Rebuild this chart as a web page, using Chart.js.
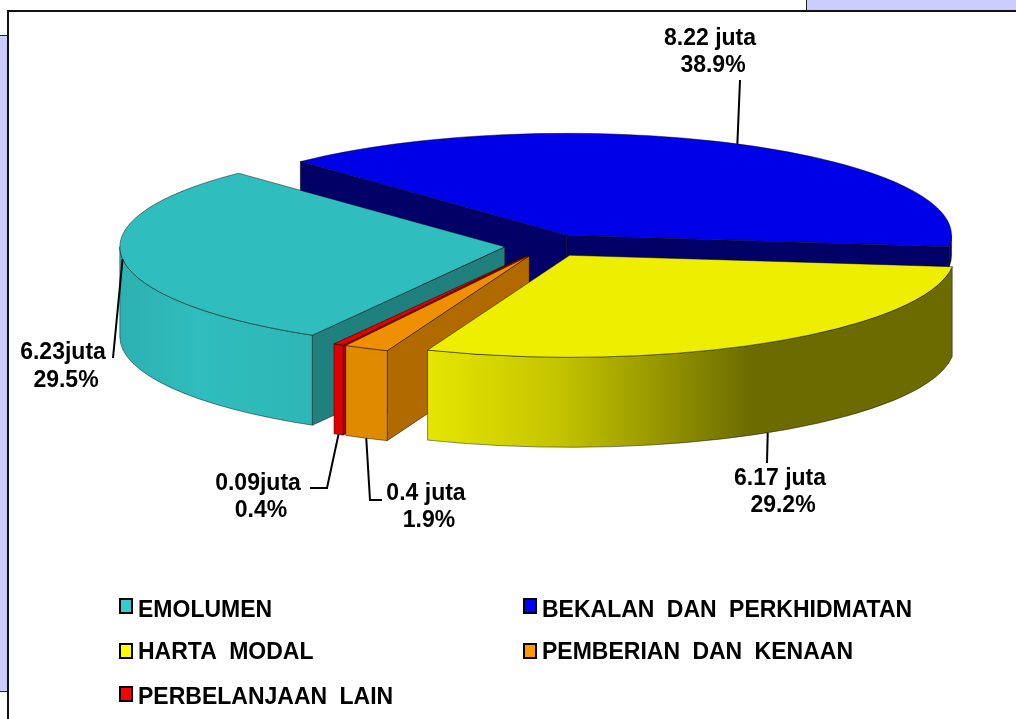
<!DOCTYPE html>
<html>
<head>
<meta charset="utf-8">
<title>Perbelanjaan</title>
<script src="https://cdn.jsdelivr.net/npm/chart.js@4/dist/chart.umd.min.js"></script>
<style>
  html, body { margin: 0; padding: 0; background: #fff; overflow: hidden; }
  #page { position: relative; width: 1016px; height: 719px; overflow: hidden; }
  #frame { position: absolute; left: 7px; top: 10px; width: 1100px; height: 800px; border: 2px solid #111; box-sizing: border-box; }
  #sideBox { position: absolute; left: 0; top: 35px; width: 7px; height: 657px; background: #ccccff; border-top: 1px solid #222; border-bottom: 1px solid #222; box-sizing: border-box; }
  #cornerBox { position: absolute; left: 806px; top: 0; width: 210px; height: 10px; background: #ccccff; border-left: 1px solid #222; box-sizing: border-box; }
  canvas { position: absolute; left: 0; top: 0; }
</style>
</head>
<body>
<div id="page">
  <div id="sideBox"></div>
  <div id="cornerBox"></div>
  <div id="frame"></div>
  <canvas id="pie" width="1016" height="719"></canvas>
</div>
<script>
// data, clockwise from the emolumen slice
const categories = ['EMOLUMEN', 'BEKALAN DAN PERKHIDMATAN', 'HARTA MODAL', 'PEMBERIAN DAN KENAAN', 'PERBELANJAAN LAIN'];
const values = [6.23, 8.22, 6.17, 0.4, 0.09];
const valueLabels = ['6.23juta', '8.22 juta', '6.17 juta', '0.4 juta', '0.09juta'];
const percentLabels = ['29.5%', '38.9%', '29.2%', '1.9%', '0.4%'];

// styles
const topColors = ['#2fbdbd', '#0000e8', '#eeee00', '#ee9000', '#e80000'];
const legendColors = ['#33cccc', '#0000ff', '#ffff00', '#ff9900', '#ff0000'];
const cutColors = ['#20807e', '#000066', '#6b6b00', '#b06a00', '#a00000'];
const rimStops = [
  [[0, '#2db0b0'], [0.4, '#30bdbd'], [1, '#2eb6b6']],
  [[0, '#000066'], [1, '#000066']],
  [[0, '#e6e600'], [0.25, '#c4c400'], [0.62, '#6b6b00'], [1, '#6b6b00']],
  [[0, '#e08a00'], [1, '#e08a00']],
  [[0, '#e00000'], [1, '#e00000']]
];
const paintOrder = [1, 0, 4, 3, 2];

const squash = 0.265;
const depth = 90;
const blueRimDepth = 20; // the rest of that wall is hidden behind the yellow slice
const explode = 43;

// label layout: where the two text lines sit, whether the leader starts at the bottom of the wall, elbow of the leader
const labelSpots = [
  { x: 63, y: 353, gap: 28, low: false, leader: [[113, 358]] },
  { x: 710, y: 39, gap: 27, low: false, leader: [[740, 80]] },
  { x: 780, y: 479, gap: 27, low: true, leader: [[767, 463]] },
  { x: 426, y: 494, gap: 27, low: true, leader: [[370, 500], [382, 500]] },
  { x: 258, y: 484, gap: 27, low: true, leader: [[327, 488], [310, 488]] }
];
const legendSpots = [[120, 611], [524, 611], [120, 653], [524, 653], [120, 698]];
const swatchTops = [599, 599, 644, 644, 687];

function rimPoint(arc, angle, drop) {
  return {
    x: arc.x + Math.cos(angle) * arc.outerRadius,
    y: arc.y + Math.sin(angle) * arc.outerRadius * squash + drop
  };
}

function cutFace(ctx, arc, angle, color) {
  const p = rimPoint(arc, angle, 0);
  ctx.beginPath();
  ctx.moveTo(arc.x, arc.y);
  ctx.lineTo(p.x, p.y);
  ctx.lineTo(p.x, p.y + depth);
  ctx.lineTo(arc.x, arc.y + depth);
  ctx.closePath();
  ctx.fillStyle = color;
  ctx.fill();
  ctx.stroke();
}

function rimWall(ctx, arc, from, to, stops, height) {
  const rx = arc.outerRadius;
  const ry = rx * squash;
  const a = rimPoint(arc, from, 0).x;
  const b = rimPoint(arc, to, 0).x;
  const grad = ctx.createLinearGradient(Math.min(a, b), 0, Math.max(a, b), 0);
  stops.forEach((s) => grad.addColorStop(s[0], s[1]));
  ctx.beginPath();
  ctx.ellipse(arc.x, arc.y, rx, ry, 0, from, to);
  ctx.ellipse(arc.x, arc.y + height, rx, ry, 0, to, from, true);
  ctx.closePath();
  ctx.fillStyle = grad;
  ctx.fill();
  ctx.stroke();
}

const solidPie = {
  id: 'solidPie',
  afterDatasetsUpdate(chart) {
    // pull every slice out from the centre, in screen coordinates
    chart.getDatasetMeta(0).data.forEach((arc) => {
      const mid = (arc.startAngle + arc.endAngle) / 2;
      arc.x += Math.cos(mid) * explode;
      arc.y += Math.sin(mid) * explode * squash;
    });
  },
  beforeDatasetDraw(chart) {
    const ctx = chart.ctx;
    const arcs = chart.getDatasetMeta(0).data;
    ctx.save();
    ctx.lineWidth = 1;
    ctx.strokeStyle = 'rgba(0,0,0,.45)';
    paintOrder.forEach((i) => {
      const arc = arcs[i];
      if (Math.cos(arc.startAngle) < 0) cutFace(ctx, arc, arc.startAngle, cutColors[i]);
      if (Math.cos(arc.endAngle) > 0) cutFace(ctx, arc, arc.endAngle, cutColors[i]);
      for (let k = 0; k < 2; k++) {
        const from = Math.max(arc.startAngle, k * 2 * Math.PI);
        const to = Math.min(arc.endAngle, Math.PI + k * 2 * Math.PI);
        if (to > from) rimWall(ctx, arc, from, to, rimStops[i], i === 1 ? blueRimDepth : depth);
      }
    });
    ctx.restore();

    // top faces: the library draws them, flattened
    ctx.save();
    ctx.scale(1, squash);
    arcs.forEach((arc) => { arc.y /= squash; });
  },
  afterDatasetDraw(chart) {
    const ctx = chart.ctx;
    const arcs = chart.getDatasetMeta(0).data;
    ctx.restore();
    arcs.forEach((arc) => { arc.y *= squash; });
    ctx.save();
    ctx.lineWidth = 1;
    ctx.strokeStyle = 'rgba(0,0,0,.45)';
    arcs.forEach((arc) => {
      ctx.beginPath();
      ctx.moveTo(arc.x, arc.y);
      ctx.ellipse(arc.x, arc.y, arc.outerRadius, arc.outerRadius * squash, 0, arc.startAngle, arc.endAngle);
      ctx.closePath();
      ctx.stroke();
    });
    ctx.restore();
  },
  afterDraw(chart) {
    const ctx = chart.ctx;
    const arcs = chart.getDatasetMeta(0).data;
    ctx.save();
    ctx.fillStyle = '#000';
    ctx.strokeStyle = '#000';
    ctx.lineWidth = 2;
    ctx.textBaseline = 'middle';

    // value labels and leader lines
    ctx.textAlign = 'center';
    ctx.font = 'bold 23px "Liberation Sans", Arial, sans-serif';
    labelSpots.forEach((spot, i) => {
      const arc = arcs[i];
      const start = rimPoint(arc, (arc.startAngle + arc.endAngle) / 2, spot.low ? depth : 0);
      ctx.beginPath();
      ctx.moveTo(start.x, start.y);
      spot.leader.forEach((p) => ctx.lineTo(p[0], p[1]));
      ctx.stroke();
      ctx.fillText(valueLabels[i], spot.x, spot.y);
      ctx.fillText(percentLabels[i], spot.x + 3, spot.y + spot.gap);
    });

    // legend in two columns
    ctx.textAlign = 'left';
    ctx.font = 'bold 23px "Liberation Sans", Arial, sans-serif';
    ctx.wordSpacing = '6px';
    categories.forEach((name, i) => {
      const [x, y] = legendSpots[i];
      ctx.fillStyle = legendColors[i];
      ctx.fillRect(x, swatchTops[i], 12, 14);
      ctx.strokeRect(x, swatchTops[i], 12, 14);
      ctx.fillStyle = '#000';
      ctx.fillText(name, x + 18, y);
    });
    ctx.restore();
  }
};

new Chart(document.getElementById('pie'), {
  type: 'pie',
  data: {
    labels: categories,
    datasets: [{ data: values, backgroundColor: topColors, borderWidth: 0, clip: false }]
  },
  options: {
    responsive: false,
    animation: false,
    rotation: 210,
    radius: 385,
    layout: { padding: { left: 79, bottom: 228 } },
    plugins: { legend: { display: false }, tooltip: { enabled: false } }
  },
  plugins: [solidPie]
});
</script>
</body>
</html>
